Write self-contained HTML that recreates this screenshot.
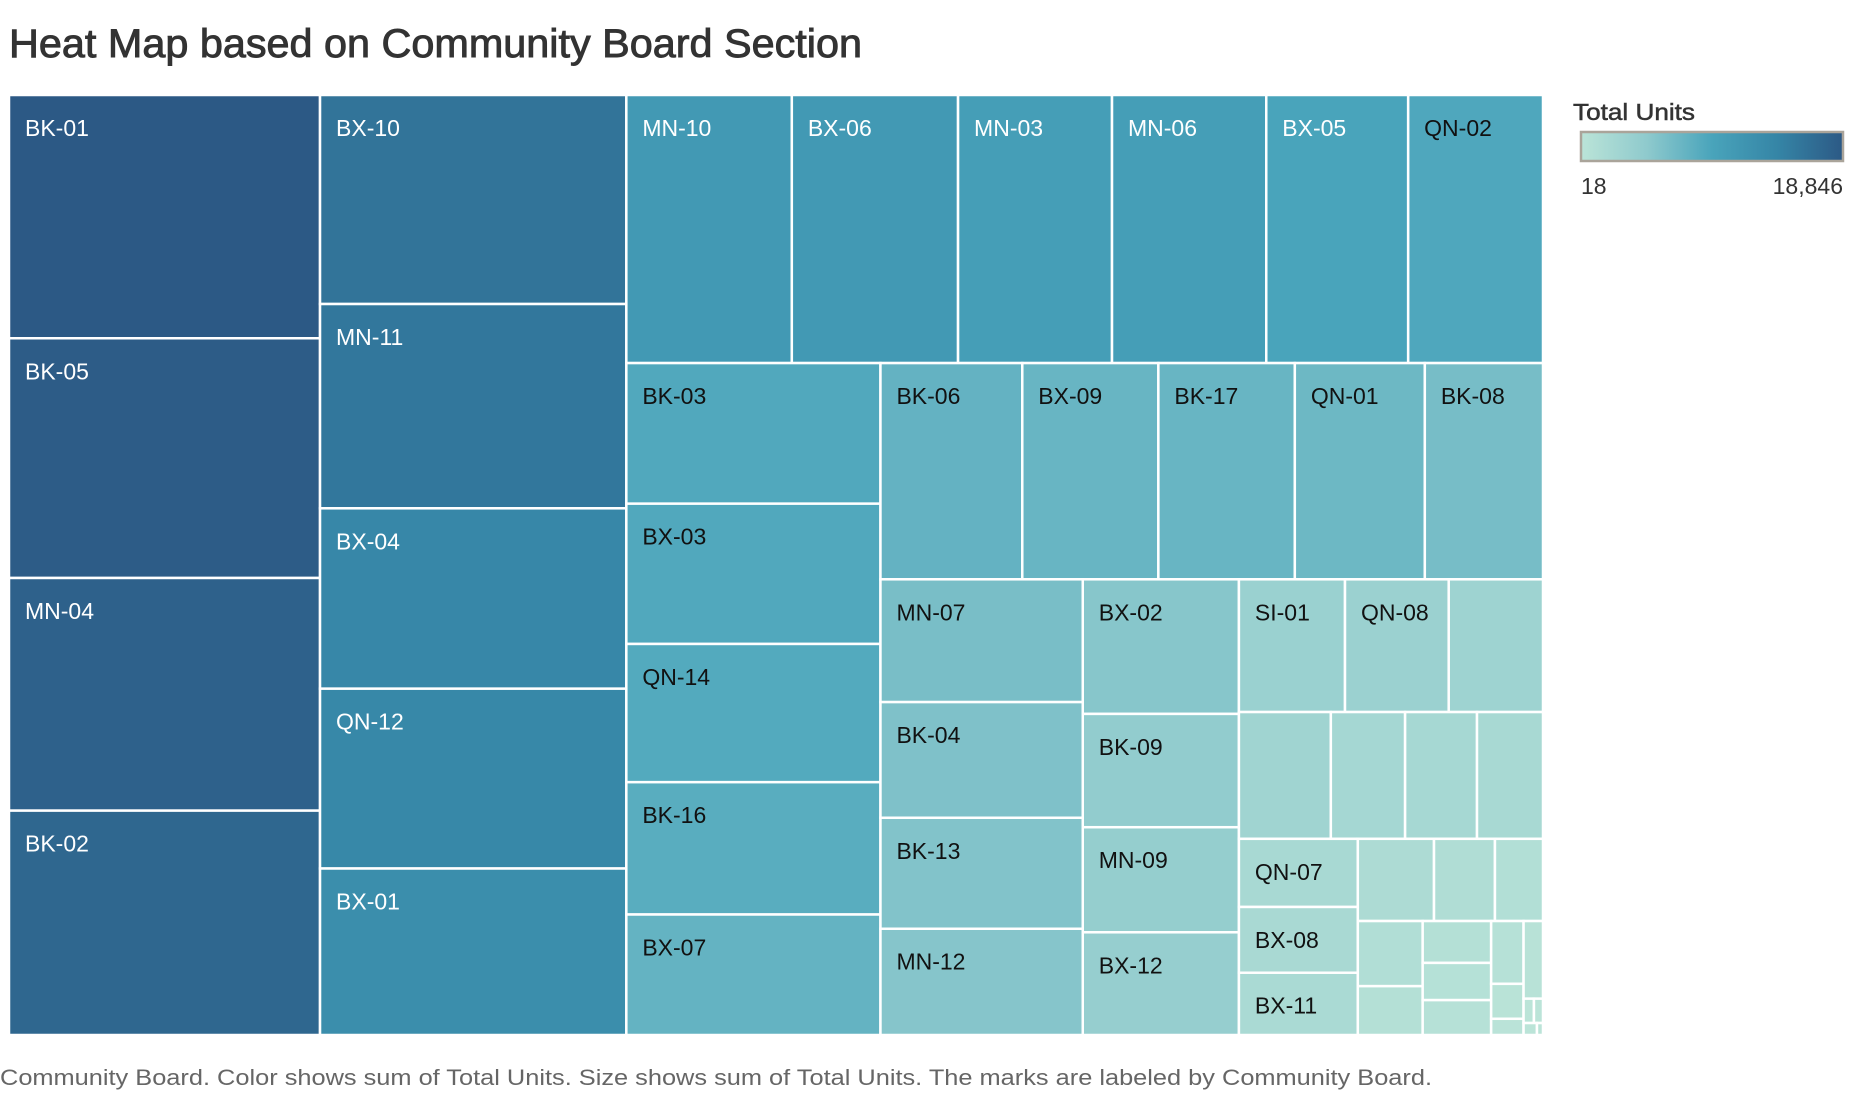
<!DOCTYPE html>
<html><head><meta charset="utf-8">
<style>
html,body{margin:0;padding:0;background:#fff;width:1852px;height:1094px;overflow:hidden;font-family:"Liberation Sans",sans-serif;}
svg{display:block}
</style></head>
<body>
<svg id="chart" width="1852" height="1094" viewBox="0 0 1852 1094" xmlns="http://www.w3.org/2000/svg">
  <text x="9" y="57" font-family="Liberation Sans, sans-serif" font-size="40" fill="#333" stroke="#333" stroke-width="0.9" textLength="853" lengthAdjust="spacingAndGlyphs">Heat Map based on Community Board Section</text>
  <g id="cells"></g>
  <g>
    <text x="1573" y="120" font-size="23" fill="#333" stroke="#333" stroke-width="0.5" textLength="122" lengthAdjust="spacingAndGlyphs">Total Units</text>
    <defs>
      <linearGradient id="lg" x1="0" x2="1" y1="0" y2="0">
        <stop offset="0" stop-color="#bbe4d8"/>
        <stop offset="0.25" stop-color="#8fcacd"/>
        <stop offset="0.5" stop-color="#49a4bb"/>
        <stop offset="0.75" stop-color="#3585a6"/>
        <stop offset="1" stop-color="#2c5985"/>
      </linearGradient>
    </defs>
    <rect x="1581" y="132" width="262" height="29" fill="url(#lg)" stroke="#aaa49a" stroke-width="2.5"/>
    <text id="legMin" x="1581" y="194" font-size="23" fill="#333"></text>
    <text id="legMax" x="1843" y="194" font-size="23" fill="#333" text-anchor="end"></text>
  </g>
  <text x="0" y="1085" font-size="22" fill="#666" textLength="1432" lengthAdjust="spacingAndGlyphs">Community Board.  Color shows sum of Total Units.  Size shows sum of Total Units.  The marks are labeled by Community Board.</text>
</svg>
<script>
const names = ["BK-01","BK-05","MN-04","BK-02",
 "BX-10","MN-11","BX-04","QN-12","BX-01",
 "BX-06","MN-10","MN-06","MN-03","BX-05","QN-02",
 "BK-03","BX-03","QN-14","BK-16","BX-07",
 "BK-06","BK-17","BX-09","QN-01","BK-08",
 "MN-07","BK-04","BK-13","MN-12",
 "BX-02","BK-09","MN-09","BX-12",
 "SI-01","QN-08","",
 "","","","",
 "QN-07","BX-08","BX-11",
 "","","",
 "","","","","","","","","","","","",""];
const values = [18846,18572,18023,17383,
 15947,15587,13760,13720,12703,
 11100,11050,10300,10280,9476,9002,
 8900,8880,8750,8376,7628,
 7639,7350,7330,7002,6366,
 6186,5829,5592,5354,
 5235,4408,4087,3995,
 3507,3429,3117,
 2903,2345,2271,2084,
 2018,1948,1844,
 1560,1248,984,
 1052,789,714,635,595,507,282,131,376,63,55,40,18];
const legendTicks = ["18","18,846"];
const vMin = 18, vMax = 18846;

function seq(a,b){const r=[];for(let i=a;i<=b;i++)r.push(i);return r;}
const tree = {d:'h',c:[
  {d:'v',c:seq(0,3)},
  {d:'v',c:[4,5,6,7,8]},
  {d:'v',c:[
    {d:'h',c:[10,9,12,11,13,14]},
    {d:'h',c:[
      {d:'v',c:seq(15,19)},
      {d:'v',c:[
        {d:'h',c:[20,22,21,23,24]},
        {d:'h',c:[
          {d:'v',c:seq(25,28)},
          {d:'v',c:seq(29,32)},
          {d:'v',c:[
            {d:'h',c:seq(33,35)},
            {d:'h',c:seq(36,39)},
            {d:'h',c:[
              {d:'v',c:seq(40,42)},
              {d:'v',c:[
                {d:'h',c:seq(43,45)},
                {d:'h',c:[
                  {d:'v',c:[46,47]},
                  {d:'v',c:[48,49,50]},
                  {d:'v',c:[51,52,53]},
                  {d:'v',c:[54,{d:'h',c:[55,56]},{d:'h',c:[57,58]}]}
                ]}
              ]}
            ]}
          ]}
        ]}
      ]}
    ]}
  ]}
]};

function total(n){return typeof n==='number'?values[n]:n.c.reduce((s,k)=>s+total(k),0);}
const stops=[[0,[187,228,216]],[0.25,[143,202,205]],[0.5,[73,164,187]],[0.75,[53,133,166]],[1,[44,89,133]]];
function color(v){
  let t=(v-vMin)/(vMax-vMin); t=Math.max(0,Math.min(1,t));
  for(let i=1;i<stops.length;i++){
    if(t<=stops[i][0]){
      const a=stops[i-1],b=stops[i],f=(t-a[0])/(b[0]-a[0]);
      const c=a[1].map((x,j)=>Math.round(x+(b[1][j]-x)*f));
      return `rgb(${c[0]},${c[1]},${c[2]})`;
    }
  }
  return 'rgb(44,89,133)';
}
const NS="http://www.w3.org/2000/svg";
const g=document.getElementById('cells');
function layout(n,x,y,w,h){
  if(typeof n==='number'){draw(n,x,y,w,h);return;}
  const T=total(n);let off=0;
  n.c.forEach(k=>{
    const f=total(k)/T;
    if(n.d==='h'){layout(k,x+off,y,w*f,h);off+=w*f;}
    else{layout(k,x,y+off,w,h*f);off+=h*f;}
  });
}
function draw(i,x,y,w,h){
  const r=document.createElementNS(NS,'rect');
  
  
  r.setAttribute('x',x);r.setAttribute('y',y);
  r.setAttribute('width',Math.max(0,w));r.setAttribute('height',Math.max(0,h));
  r.setAttribute('fill',color(values[i]));
  r.setAttribute('stroke','#fff');r.setAttribute('stroke-width','2.5');
  g.appendChild(r);
  if(names[i]){
    const t=document.createElementNS(NS,'text');
    
    
    t.setAttribute('x',x+16);t.setAttribute('y',y+41);
    t.setAttribute('font-size','23');
    t.setAttribute('fill',values[i]>9200?'#ffffff':'#111111');
    t.textContent=names[i];
    g.appendChild(t);
  }
}
layout(tree,9,95,1534,940);
document.getElementById('legMin').textContent=legendTicks[0];
document.getElementById('legMax').textContent=legendTicks[1];
</script>
</body></html>
